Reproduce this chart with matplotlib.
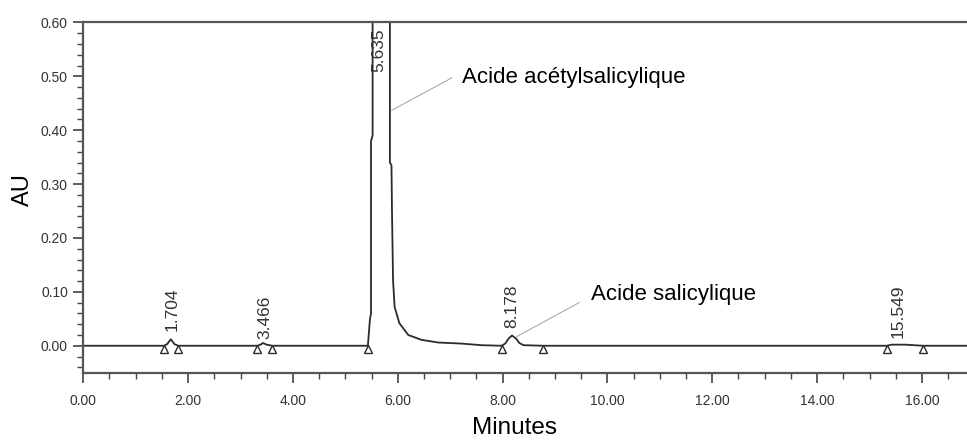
import numpy as np
import matplotlib
matplotlib.use("Agg")
import matplotlib.pyplot as plt
from matplotlib.ticker import MultipleLocator, FormatStrFormatter
import matplotlib.transforms as mtransforms

# chromatogram trace (minutes, AU)
time_min = [0.00, 1.54, 1.60, 1.67, 1.74, 1.81,
            3.32, 3.38, 3.43, 3.50, 3.61,
            5.43, 5.47, 5.49, 5.49, 5.52, 5.52, 5.53, 5.635, 5.84, 5.85, 5.85,
            5.88, 5.89, 5.91, 5.94, 6.03, 6.20, 6.45, 6.77, 7.22, 7.60,
            7.98, 8.05, 8.12, 8.18, 8.26, 8.32, 8.40, 8.78,
            15.33, 15.42, 15.55, 15.68, 16.02, 16.90]
absorb = [0.000, 0.000, 0.003, 0.012, 0.003, 0.000,
          0.000, 0.002, 0.005, 0.002, 0.000,
          0.000, 0.050, 0.060, 0.380, 0.390, 0.600, 0.700, 1.250, 0.700, 0.600, 0.340,
          0.335, 0.250, 0.122, 0.072, 0.042, 0.020, 0.011, 0.006, 0.004, 0.001,
          0.000, 0.004, 0.014, 0.019, 0.013, 0.005, 0.001, 0.000,
          0.000, 0.002, 0.002, 0.002, 0.000, 0.000]

# integration marks (peak start / end)
marks = [1.54, 1.81, 3.32, 3.61, 5.43, 7.98, 8.78, 15.33, 16.02]

# retention time labels
peak_rt = [1.704, 3.466, 5.635, 8.178, 15.549]
label_y = [0.027, 0.013, 0.508, 0.032, 0.015]

fig = plt.figure(figsize=(9.67, 4.41), dpi=100)
ax = fig.add_axes([0.0861, 0.1549, 0.9139, 0.7943])

ink = "#2b2b2b"
ax.plot(time_min, absorb, color=ink, lw=1.3, clip_on=True)

# triangles hang just under the baseline
off = mtransforms.offset_copy(ax.transData, fig=fig, x=0, y=-3.2, units="dots")
ax.plot(marks, [0] * len(marks), ls="none", marker="^", ms=5.5, mfc="white",
        mec=ink, mew=1.0, transform=off)

for rt, y in zip(peak_rt, label_y):
    ax.text(rt, y, f"{rt:.3f}", rotation=90, ha="center", va="bottom",
            fontsize=12.5, color="#333333", family="Liberation Sans")

# compound labels with thin leader lines
ax.plot([5.885, 7.03], [0.437, 0.497], color="#a0a0a0", lw=0.7)
ax.text(7.23, 0.4985, "Acide acétylsalicylique", fontsize=16,
        family="Liberation Sans", va="center", ha="left", color="black")
ax.plot([8.27, 9.46], [0.017, 0.080], color="#a0a0a0", lw=0.7)
ax.text(9.68, 0.096, "Acide salicylique", fontsize=16,
        family="Liberation Sans", va="center", ha="left", color="black")

ax.set_xlim(0, 16.86)
ax.set_ylim(-0.05, 0.60)

ax.spines["right"].set_visible(False)
for s in ["left", "top", "bottom"]:
    ax.spines[s].set_color("#555555")
    ax.spines[s].set_linewidth(1.6)

ax.xaxis.set_major_locator(MultipleLocator(2))
ax.xaxis.set_minor_locator(MultipleLocator(0.5))
ax.yaxis.set_major_locator(MultipleLocator(0.1))
ax.yaxis.set_minor_locator(MultipleLocator(0.02))
ax.xaxis.set_major_formatter(FormatStrFormatter("%.2f"))
ax.yaxis.set_major_formatter(FormatStrFormatter("%.2f"))

ax.tick_params(which="major", direction="out", length=7, width=1.2,
               color="#444444", labelsize=10, pad=4)
ax.tick_params(which="minor", direction="out", length=4, width=1.0,
               color="#444444")
ax.tick_params(axis="x", which="major", pad=8)
for lab in ax.get_xticklabels() + ax.get_yticklabels():
    lab.set_family("Liberation Sans")
    lab.set_color("#333333")

fig.text(23 / 967, 1 - 190 / 441, "AU", rotation=90, fontsize=17,
         family="Liberation Sans", ha="center", va="center")
fig.text(515 / 967, 1 - 428 / 441, "Minutes", fontsize=17.5,
         family="Liberation Sans", ha="center", va="center")

fig.savefig("out.png", dpi=100)
